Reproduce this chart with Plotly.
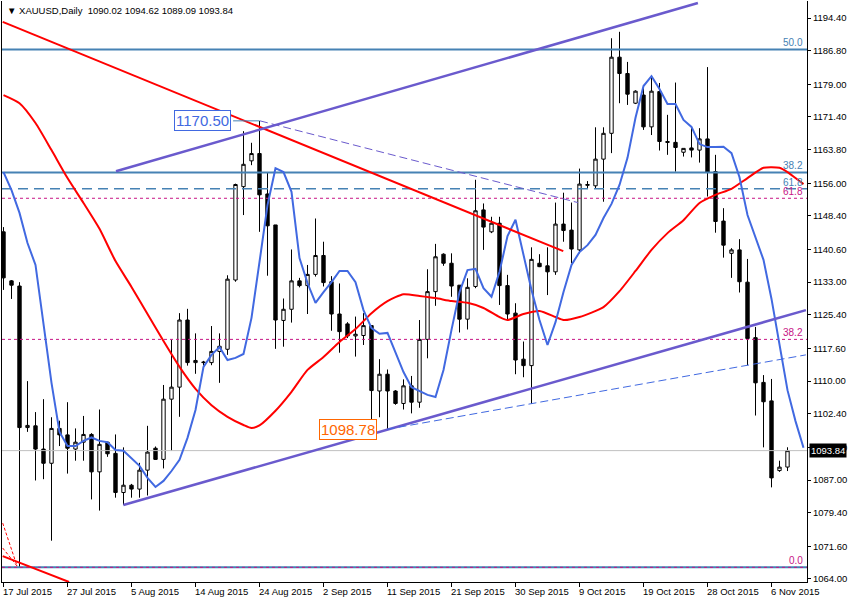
import plotly.graph_objects as go

# ---------------- data ----------------
opens = [1144.7, 1133.3, 1132.1, 1099.2, 1099.6, 1094.2, 1090.9, 1099.0, 1097.5, 1094.2,
         1095.8, 1097.6, 1088.9, 1095.8, 1093.2, 1084.1, 1085.8, 1084.9, 1089.3, 1094.4,
         1091.8, 1105.8, 1108.6, 1124.2, 1114.3, 1114.3, 1114.3, 1116.9, 1117.4, 1133.5,
         1155.2, 1161.2, 1162.9, 1153.5, 1146.3, 1124.1, 1126.7, 1133.3, 1132.2, 1134.8,
         1139.2, 1133.1, 1125.6, 1123.3, 1120.5, 1120.6, 1122.9, 1107.7, 1111.6, 1107.7,
         1104.8, 1108.9, 1105.1, 1119.7, 1130.8, 1139.5, 1137.4, 1132.3, 1124.4, 1132.0,
         1149.8, 1144.7, 1146.7, 1132.2, 1125.8, 1115.1, 1113.6, 1137.4, 1136.8, 1135.4,
         1146.5, 1145.1, 1140.5, 1155.5, 1155.4, 1161.6, 1167.6, 1185.3, 1181.5, 1174.6,
         1176.5, 1169.1, 1177.3, 1165.7, 1165.5, 1163.2, 1164.2, 1163.7, 1166.3, 1158.7,
         1147.2, 1139.7, 1140.5, 1133.0, 1120.1, 1109.7, 1105.4, 1089.2, 1090.02]
highs = [1145.8, 1133.5, 1133.0, 1110.0, 1102.8, 1105.8, 1101.6, 1100.8, 1105.1, 1099.0,
         1101.9, 1097.9, 1103.4, 1095.9, 1097.6, 1094.6, 1086.1, 1091.0, 1099.6, 1094.8,
         1109.1, 1119.6, 1125.8, 1126.8, 1121.1, 1114.7, 1122.8, 1121.1, 1134.6, 1155.9,
         1168.1, 1165.4, 1170.5, 1158.5, 1146.3, 1129.2, 1140.6, 1134.0, 1137.0, 1147.8,
         1142.4, 1134.4, 1132.7, 1123.7, 1125.0, 1125.8, 1122.9, 1115.1, 1112.7, 1107.9,
         1110.4, 1111.2, 1124.2, 1136.0, 1141.9, 1139.7, 1139.7, 1132.3, 1133.9, 1156.8,
         1151.3, 1148.2, 1148.2, 1134.7, 1128.1, 1119.2, 1141.1, 1139.5, 1141.1, 1151.5,
         1153.8, 1151.5, 1159.4, 1156.5, 1169.0, 1169.0, 1189.7, 1191.2, 1184.2, 1177.6,
         1178.1, 1180.8, 1179.3, 1171.9, 1179.4, 1164.1, 1169.0, 1168.8, 1183.0, 1162.6,
         1150.2, 1140.9, 1143.0, 1138.4, 1122.6, 1111.4, 1110.5, 1091.5, 1094.62]
lows = [1131.2, 1129.1, 1066.6, 1098.2, 1086.9, 1087.2, 1072.9, 1094.9, 1088.5, 1091.5,
        1091.5, 1082.5, 1079.9, 1092.4, 1082.9, 1081.2, 1082.9, 1082.9, 1083.4, 1091.7,
        1089.7, 1093.8, 1101.7, 1113.6, 1111.7, 1113.6, 1113.7, 1109.6, 1116.1, 1133.1,
        1148.6, 1160.2, 1144.7, 1134.5, 1117.5, 1118.0, 1123.6, 1131.8, 1125.6, 1134.3,
        1132.0, 1121.7, 1116.6, 1120.0, 1115.7, 1118.4, 1099.0, 1101.6, 1098.78, 1104.5,
        1103.4, 1102.5, 1103.8, 1115.3, 1127.5, 1136.8, 1129.6, 1121.3, 1122.0, 1131.6,
        1140.5, 1144.4, 1127.7, 1124.2, 1111.6, 1110.9, 1104.7, 1136.5, 1130.0, 1134.7,
        1142.4, 1137.4, 1139.7, 1154.8, 1154.8, 1151.7, 1163.0, 1174.6, 1174.2, 1174.4,
        1168.4, 1167.2, 1163.6, 1162.6, 1158.7, 1162.2, 1162.0, 1160.8, 1152.9, 1144.5,
        1138.7, 1134.0, 1130.6, 1113.7, 1102.0, 1094.6, 1085.3, 1088.9, 1089.09]
closes = [1134.0, 1132.3, 1099.2, 1099.7, 1094.2, 1090.9, 1099.0, 1097.5, 1094.4, 1095.8,
          1097.6, 1088.9, 1095.3, 1093.1, 1084.1, 1085.8, 1084.9, 1089.3, 1093.5, 1091.8,
          1105.8, 1108.6, 1124.2, 1114.3, 1114.8, 1114.4, 1116.9, 1118.1, 1133.7, 1155.7,
          1160.4, 1162.9, 1153.3, 1146.1, 1124.2, 1126.7, 1133.3, 1132.2, 1134.8, 1139.2,
          1132.9, 1125.6, 1121.5, 1120.5, 1120.9, 1122.9, 1107.8, 1111.6, 1107.7, 1104.8,
          1108.9, 1105.1, 1119.7, 1130.8, 1138.9, 1137.4, 1132.1, 1124.4, 1131.8, 1149.6,
          1145.8, 1146.7, 1132.2, 1125.6, 1114.9, 1113.6, 1138.3, 1136.6, 1135.4, 1146.5,
          1145.0, 1140.7, 1155.8, 1155.7, 1161.6, 1167.6, 1185.3, 1181.5, 1176.7, 1177.4,
          1169.1, 1177.4, 1165.7, 1165.5, 1164.3, 1164.1, 1163.7, 1166.3, 1158.5, 1147.1,
          1141.6, 1140.5, 1133.1, 1119.9, 1109.6, 1105.2, 1087.5, 1090.0, 1093.84]

# blue moving average, one value per bar (0..100, extends two bars past the last candle)
blue_ma = [1158.6, 1154.4, 1149.1, 1142.1, 1137.0, 1123.7, 1109.6, 1098.2, 1094.9, 1094.9,
           1096.1, 1096.9, 1096.1, 1095.8, 1094.0, 1093.8, 1092.1, 1090.3, 1087.5, 1085.4,
           1086.8, 1089.1, 1091.7, 1096.8, 1103.3, 1113.3, 1116.1, 1117.9, 1114.9, 1115.4,
           1116.3, 1124.7, 1137.7, 1150.9, 1159.5, 1158.6, 1154.0, 1138.6, 1132.8, 1128.2,
           1130.7, 1133.0, 1135.6, 1135.6, 1133.0, 1126.5, 1122.3, 1121.0, 1121.2, 1116.5,
           1112.1, 1108.6, 1107.7, 1106.8, 1106.3, 1112.6, 1121.9, 1130.7, 1135.8, 1136.1,
           1131.6, 1129.6, 1135.4, 1143.7, 1147.5, 1139.3, 1131.2, 1124.2, 1118.4, 1123.7,
           1130.7, 1137.0, 1140.0, 1141.6, 1144.0, 1147.9, 1151.2, 1155.6, 1161.9, 1171.2,
           1178.6, 1180.9, 1177.9, 1174.4, 1174.4, 1170.7, 1169.1, 1165.1, 1164.4, 1164.4,
           1164.5, 1163.0, 1157.4, 1148.6, 1143.3, 1138.2, 1129.1, 1118.4, 1107.9, 1100.7,
           1094.5]

# red moving average, read at these bars
red_ma_bars = [0, 2, 4, 6, 8, 10, 12, 14, 16, 18, 20, 22, 24, 26, 28, 30, 31, 32, 34, 36,
               38, 40, 42, 44, 46, 48, 50, 52, 54, 56, 58, 60, 62, 63, 65, 67, 69, 70, 72, 75,
               77, 79, 81, 83, 85, 87, 89, 91, 93, 95, 97, 98, 99, 100]
red_ma = [1176.5, 1174.6, 1170.0, 1163.7, 1157.2, 1151.4, 1145.4, 1137.9, 1131.9, 1125.6,
          1119.3, 1113.3, 1108.2, 1104.4, 1101.7, 1099.8, 1099.1, 1099.7, 1103.1, 1107.5,
          1112.6, 1115.6, 1119.1, 1122.1, 1125.8, 1128.6, 1130.2, 1129.8, 1129.3, 1128.6,
          1128.2, 1127.0, 1124.9, 1124.2, 1125.6, 1126.3, 1124.9, 1124.2, 1124.9, 1127.2,
          1130.9, 1135.6, 1140.5, 1144.4, 1147.4, 1151.4, 1153.3, 1154.7, 1157.2, 1159.6,
          1159.6, 1158.6, 1157.2, 1155.8]

# fibonacci levels
steel_levels = [1187.1, 1158.5]          # solid steel-blue (50.0, 38.2)
steel_level_labels = ["50.0", "38.2"]
steel_dash_level = 1154.7                # dashed steel-blue 61.8
steel_dash_label = "61.8"
magenta_levels = [1152.5, 1119.7, 1066.7]
magenta_level_labels = ["61.8", "38.2", "0.0"]
steel_zero_level = 1066.7

# trend lines: (bar, price) end points
red_trend = ([-0.1, 69.97], [1193.5, 1140.2])
red_trend_low = ([-0.1, 8.2], [1069.3, 1063.3])
red_thin_a = ([-0.1, 1.7], [1077.0, 1067.0])
red_thin_b = ([-0.1, 1.7], [1071.2, 1067.0])
purple_upper = ([14.06, 86.8], [1158.8, 1197.9])
purple_lower = ([14.98, 100.3], [1081.2, 1126.5])
blue_dash_line = ([47.9, 100.3], [1098.78, 1116.1])
purple_dash_line = ([32.06, 71.8], [1170.5, 1151.5])

last_price = 1093.84
high_mark = (32, 1170.50)
low_mark = (48, 1098.78)

date_labels = ["17 Jul 2015", "27 Jul 2015", "5 Aug 2015", "14 Aug 2015", "24 Aug 2015",
               "2 Sep 2015", "11 Sep 2015", "21 Sep 2015", "30 Sep 2015", "9 Oct 2015",
               "19 Oct 2015", "28 Oct 2015", "6 Nov 2015"]
date_label_bars = [0, 8, 16, 24, 32, 40, 48, 56, 64, 72, 80, 88, 96]

price_ticks = [1064.00, 1071.60, 1079.40, 1087.00, 1094.60, 1102.40, 1110.00, 1117.60,
               1125.40, 1133.00, 1140.60, 1148.40, 1156.00, 1163.80, 1171.40, 1179.00,
               1186.80, 1194.40]
price_tick_text = ["%.2f" % v for v in price_ticks]

title_text = "▼ XAUUSD,Daily  1090.02 1094.62 1089.09 1093.84"

# ---------------- styling ----------------
FONT = "Liberation Sans, Arial, DejaVu Sans, sans-serif"
STEEL = "#4682B4"
MAGENTA = "#C71585"
ROYAL = "#4169E1"
SLATE = "#6A5ACD"
X_RANGE = [-0.1875, 100.4375]
Y_RANGE = [1063.30, 1198.36]

bars = list(range(len(opens)))
fig = go.Figure()

def hline(level, color, width, dash="solid"):
    fig.add_trace(go.Scatter(x=X_RANGE, y=[level, level], mode="lines",
                             line=dict(color=color, width=width, dash=dash),
                             hoverinfo="skip", showlegend=False))

def seg(pts, color, width, dash="solid"):
    fig.add_trace(go.Scatter(x=pts[0], y=pts[1], mode="lines",
                             line=dict(color=color, width=width, dash=dash),
                             hoverinfo="skip", showlegend=False))

# background level lines
hline(last_price, "#C0C0C0", 1)
for lv in steel_levels:
    hline(lv, STEEL, 2)
hline(steel_zero_level, STEEL, 2)
hline(steel_dash_level, STEEL, 1.5, "10px,6px")
for lv in magenta_levels:
    hline(lv, MAGENTA, 1, "3px,3px")

# candles
fig.add_trace(go.Candlestick(
    x=bars, open=opens, high=highs, low=lows, close=closes,
    increasing=dict(line=dict(color="black", width=1), fillcolor="white"),
    decreasing=dict(line=dict(color="black", width=1), fillcolor="black"),
    whiskerwidth=0, hoverinfo="skip", showlegend=False))

# moving averages
fig.add_trace(go.Scatter(x=red_ma_bars, y=red_ma, mode="lines",
                         line=dict(color="#FF0000", width=2, shape="spline", smoothing=0.6),
                         hoverinfo="skip", showlegend=False))
fig.add_trace(go.Scatter(x=list(range(len(blue_ma))), y=blue_ma, mode="lines",
                         line=dict(color=ROYAL, width=2),
                         hoverinfo="skip", showlegend=False))

# trend lines
seg(red_trend, "#FF0000", 2)
seg(red_trend_low, "#FF0000", 2)
seg(red_thin_a, "#FF0000", 1, "3px,2px")
seg(red_thin_b, "#FF0000", 1, "3px,2px")
seg(purple_upper, SLATE, 2.5)
seg(purple_lower, SLATE, 2.5)
seg(blue_dash_line, ROYAL, 1, "8px,4px")
seg(purple_dash_line, SLATE, 1, "8px,4px")
seg(([28.7, high_mark[0]], [high_mark[1], high_mark[1]]), STEEL, 1)

annotations = []
# level labels
for lv, lab in zip(steel_levels, steel_level_labels):
    annotations.append(dict(xref="paper", yref="y", x=0.998, y=lv, text=lab, showarrow=False,
                            xanchor="right", yanchor="bottom", yshift=-1,
                            font=dict(family=FONT, size=10, color=STEEL)))
annotations.append(dict(xref="paper", yref="y", x=0.998, y=steel_dash_level, text=steel_dash_label,
                        showarrow=False, xanchor="right", yanchor="bottom", yshift=-1,
                        font=dict(family=FONT, size=10, color=STEEL)))
for lv, lab in zip(magenta_levels, magenta_level_labels):
    annotations.append(dict(xref="paper", yref="y", x=0.998, y=lv, text=lab, showarrow=False,
                            xanchor="right", yanchor="bottom", yshift=-1,
                            font=dict(family=FONT, size=10, color=MAGENTA)))
# boxed price marks
annotations.append(dict(xref="x", yref="y", x=24.9, y=high_mark[1], text="%.2f" % high_mark[1],
                        showarrow=False, xanchor="center", yanchor="middle",
                        bgcolor="white", bordercolor=ROYAL, borderwidth=1, borderpad=1,
                        font=dict(family=FONT, size=15, color=ROYAL)))
annotations.append(dict(xref="x", yref="y", x=43.0, y=low_mark[1], text="%.2f" % low_mark[1],
                        showarrow=False, xanchor="center", yanchor="middle",
                        bgcolor="white", bordercolor="#FF6600", borderwidth=1, borderpad=1,
                        font=dict(family=FONT, size=15, color="#FF6600")))
# current price box on the axis
annotations.append(dict(xref="paper", yref="y", x=1.0025, y=last_price, text="%.2f" % last_price,
                        showarrow=False, xanchor="left", yanchor="middle",
                        bgcolor="black", borderpad=1,
                        font=dict(family=FONT, size=9.5, color="white")))
# date labels
for b, lab in zip(date_label_bars, date_labels):
    annotations.append(dict(xref="x", yref="paper", x=b, y=-0.0155, text=lab, showarrow=False,
                            xanchor="left", yanchor="middle", xshift=-3,
                            font=dict(family=FONT, size=9.5, color="black")))
# header
annotations.append(dict(xref="paper", yref="paper", x=0.004, y=0.997, text=title_text,
                        showarrow=False, xanchor="left", yanchor="top",
                        font=dict(family=FONT, size=9.5, color="black")))

fig.update_layout(
    width=850, height=600,
    margin=dict(l=2, r=43, t=1, b=18, pad=0),
    paper_bgcolor="white", plot_bgcolor="white",
    showlegend=False, boxgap=0.4,
    annotations=annotations,
    xaxis=dict(range=X_RANGE, showgrid=False, zeroline=False, rangeslider=dict(visible=False),
               showline=True, linecolor="black", linewidth=1,
               tickmode="array", tickvals=date_label_bars, ticks="outside", ticklen=4,
               tickcolor="black", showticklabels=False, fixedrange=True),
    yaxis=dict(range=Y_RANGE, side="right", showgrid=False, zeroline=False,
               showline=True, linecolor="black", linewidth=1, mirror=True,
               tickmode="array", tickvals=price_ticks, ticktext=price_tick_text,
               ticks="outside", ticklen=3, tickcolor="black",
               tickfont=dict(family=FONT, size=9.5, color="black"), fixedrange=True),
)

fig.write_html("out.html", config={"displayModeBar": False},
               post_script="document.body.style.margin='0px';document.body.style.overflow='hidden';")
